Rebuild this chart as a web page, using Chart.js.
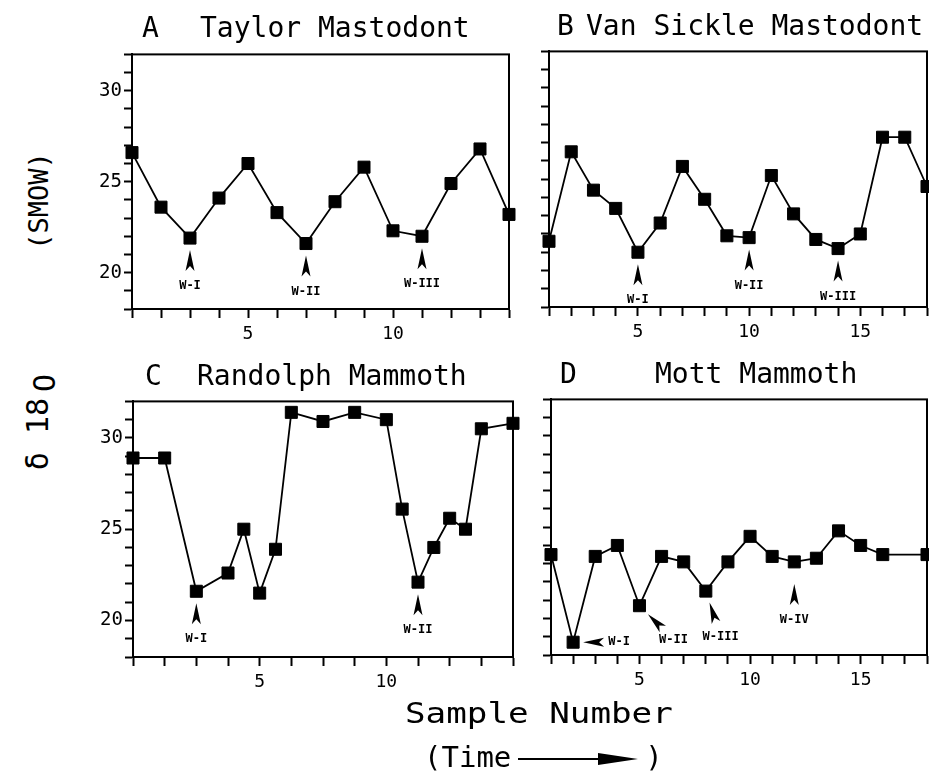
<!DOCTYPE html>
<html>
<head>
<meta charset="utf-8">
<script src="https://cdn.jsdelivr.net/npm/chart.js@4/dist/chart.umd.min.js"></script>
<style>
  html, body { margin: 0; padding: 0; background: #fff; }
  body { width: 929px; height: 774px; position: relative; overflow: hidden; font-family: 'DejaVu Sans Mono', monospace; color: #000; }
  canvas { position: absolute; }
  .t { position: absolute; white-space: nowrap; font-size: 28px; line-height: 1; }
  .wide { transform-origin: 0 0; transform: scaleX(1.18); font-size: 29px; }
  .rot { position: absolute; white-space: nowrap; transform: translate(-50%, -50%) rotate(-90deg); font-size: 27px; line-height: 1; }
  .arrow { display: inline-block; position: relative; width: 120px; height: 14px; margin: 0 7px 0 7px; vertical-align: middle; }
  .arrow::before { content: ''; position: absolute; left: 0; right: 38px; top: 6px; border-top: 2px solid #000; }
  .arrow::after { content: ''; position: absolute; right: 0; top: 1px; border-left: 40px solid #000; border-top: 6px solid transparent; border-bottom: 6px solid transparent; }
</style>
</head>
<body>
<canvas id="cA"></canvas>
<canvas id="cB"></canvas>
<canvas id="cC"></canvas>
<canvas id="cD"></canvas>

<div class="t" style="left:142px; top:14px;">A</div>
<div class="t" style="left:200px; top:14px;">Taylor Mastodont</div>
<div class="t" style="left:557px; top:12px;">B</div>
<div class="t" style="left:586px; top:12px;">Van Sickle Mastodont</div>
<div class="t" style="left:145px; top:362px;">C</div>
<div class="t" style="left:197px; top:362px;">Randolph Mammoth</div>
<div class="t" style="left:560px; top:360px;">D</div>
<div class="t" style="left:655px; top:360px;">Mott Mammoth</div>

<div class="rot" style="left:38px; top:201px;">(SMOW)</div>
<div class="rot" style="left:38px; top:422px; font-size:30px;">δ 18<span style="position:relative; top:7px; margin-left:6px;">O</span></div>

<div class="t wide" style="left:405px; top:699px;">Sample Number</div>
<div class="t" style="left:424px; top:743px; font-size:29px;">(Time<span class="arrow"></span>)</div>

<script>
// δ18O (SMOW) per sample
const sampleA = [1, 2, 3, 4, 5, 6, 7, 8, 9, 10, 11, 12, 13, 14];
const d18oA = [26.6, 23.6, 21.9, 24.1, 26.0, 23.3, 21.6, 23.9, 25.8, 22.3, 22.0, 24.9, 26.8, 23.2];

const sampleB = [1, 2, 3, 4, 5, 6, 7, 8, 9, 10, 11, 12, 13, 14, 15, 16, 17, 18];
const d18oB = [21.6, 26.5, 24.4, 23.4, 21.0, 22.6, 25.7, 23.9, 21.9, 21.8, 25.2, 23.1, 21.7, 21.2, 22.0, 27.3, 27.3, 24.6];

const sampleC = [0, 1.25, 2.5, 3.75, 4.375, 5, 5.625, 6.25, 7.5, 8.75, 10, 10.625, 11.25, 11.875, 12.5, 13.125, 13.75, 15];
const d18oC = [28.9, 28.9, 21.6, 22.6, 25.0, 21.5, 23.9, 31.4, 30.9, 31.4, 31.0, 26.1, 22.1, 24.0, 25.6, 25.0, 30.5, 30.8];

const sampleD = [1, 2, 3, 4, 5, 6, 7, 8, 9, 10, 11, 12, 13, 14, 15, 16, 18];
const d18oD = [23.5, 18.7, 23.4, 24.0, 20.7, 23.4, 23.1, 21.5, 23.1, 24.5, 23.4, 23.1, 23.3, 24.8, 24.0, 23.5, 23.5];

// winter minima (sample positions)
const winterA = [3, 7, 11];
const winterB = [5, 10, 14];
const winterC = [2.5, 11.25];
const winterD = [2, 5, 8, 12];
const winterNames = ['W-I', 'W-II', 'W-III', 'W-IV'];

// tick labels
const yLabels = [20, 25, 30];
const xLabelsA = [5, 10];
const xLabelsB = [5, 10, 15];
const xLabelsC = [5, 10];
const xLabelsD = [5, 10, 15];

const boxAndMarks = {
  id: 'boxAndMarks',
  beforeDatasetsDraw(chart) {
    const { ctx, chartArea: a } = chart;
    ctx.save();
    ctx.strokeStyle = '#000';
    ctx.lineWidth = 2;
    ctx.strokeRect(a.left, a.top, a.right - a.left, a.bottom - a.top);
    ctx.restore();
  },
  afterDatasetsDraw(chart, args, opts) {
    const { ctx, scales: { x, y } } = chart;
    const pts = chart.data.datasets[0].data;
    ctx.save();
    ctx.fillStyle = '#000';
    opts.marks.forEach((m, k) => {
      const p = pts.find(d => d.x === m);
      const px = x.getPixelForValue(p.x), py = y.getPixelForValue(p.y);
      const ang = (opts.angles ? opts.angles[k] : 90) * Math.PI / 180;
      const off = opts.shift ? opts.shift[k] : 0;
      const dx = Math.cos(ang), dy = Math.sin(ang);
      const nx = -dy, ny = dx;
      const tip = [px + dx * (12 + off), py + dy * (12 + off)];
      const base = [px + dx * (33 + off), py + dy * (33 + off)];
      ctx.beginPath();
      ctx.moveTo(tip[0], tip[1]);
      ctx.lineTo(base[0] + nx * 4.5, base[1] + ny * 4.5);
      ctx.lineTo(base[0] - dx * 5, base[1] - dy * 5);
      ctx.lineTo(base[0] - nx * 4.5, base[1] - ny * 4.5);
      ctx.closePath();
      ctx.fill();
      ctx.font = 'bold 12px "DejaVu Sans Mono"';
      ctx.textAlign = 'center';
      ctx.textBaseline = 'middle';
      ctx.fillText(winterNames[k], px + dx * (48 + off), py + dy * (48 + off));
    });
    ctx.restore();
  }
};

function panel(id, box, xs, ys, xr, xLabels, showY, marks, angles, shift) {
  const cv = document.getElementById(id);
  const padR = 12;
  const left = box.l - 45, top = box.t - 10;
  const w = box.r + padR - left, h = box.b + 40 - top;
  cv.style.left = left + 'px';
  cv.style.top = top + 'px';
  cv.width = w; cv.height = h;
  cv.style.width = w + 'px'; cv.style.height = h + 'px';

  return new Chart(cv, {
    type: 'line',
    data: {
      datasets: [{
        data: xs.map((v, i) => ({ x: v, y: ys[i] })),
        borderColor: '#000',
        borderWidth: 1.8,
        pointStyle: 'rect',
        pointRadius: 8.5,
        pointBackgroundColor: '#000',
        pointBorderColor: '#000',
        pointBorderWidth: 1,
        tension: 0,
        clip: false
      }]
    },
    options: {
      responsive: false,
      animation: false,
      devicePixelRatio: 1,
      layout: { autoPadding: false, padding: { left: 5, top: 10, right: padR, bottom: 0 } },
      plugins: {
        legend: { display: false },
        tooltip: { enabled: false },
        boxAndMarks: { marks: marks, angles: angles, shift: shift }
      },
      scales: {
        x: {
          type: 'linear', min: xr[0], max: xr[1],
          ticks: {
            stepSize: xr[2], autoSkip: false, maxRotation: 0, padding: 6, color: '#000',
            font: { family: 'DejaVu Sans Mono', size: 18 },
            callback: v => xLabels.includes(v) ? String(v) : ''
          },
          grid: { drawOnChartArea: false, drawTicks: true, tickLength: 9, tickWidth: 2, tickColor: '#000' },
          border: { display: true, color: '#000', width: 2 },
          afterFit: s => { s.height = 40; }
        },
        y: {
          min: 18, max: 32,
          ticks: {
            stepSize: 1, autoSkip: false, padding: 2, color: '#000',
            font: { family: 'DejaVu Sans Mono', size: 19 },
            callback: v => (showY && yLabels.includes(v)) ? String(v) : ''
          },
          grid: { drawOnChartArea: false, drawTicks: true, tickLength: 8, tickWidth: 2, tickColor: '#000' },
          border: { display: true, color: '#000', width: 2 },
          afterFit: s => { s.width = 40; }
        }
      }
    },
    plugins: [boxAndMarks]
  });
}

panel('cA', { l: 132, t: 51, r: 509, b: 309 }, sampleA, d18oA, [1, 14, 1], xLabelsA, true, winterA);
panel('cB', { l: 549, t: 48, r: 927, b: 307 }, sampleB, d18oB, [1, 18, 1], xLabelsB, false, winterB);
panel('cC', { l: 133, t: 398, r: 513, b: 657 }, sampleC, d18oC, [0, 15, 1.25], xLabelsC, true, winterC);
panel('cD', { l: 551, t: 396, r: 927, b: 655 }, sampleD, d18oD, [1, 18, 1], xLabelsD, false, winterD, [0, 45, 72, 90], [-2, 0, 0, 10]);
</script>
</body>
</html>
